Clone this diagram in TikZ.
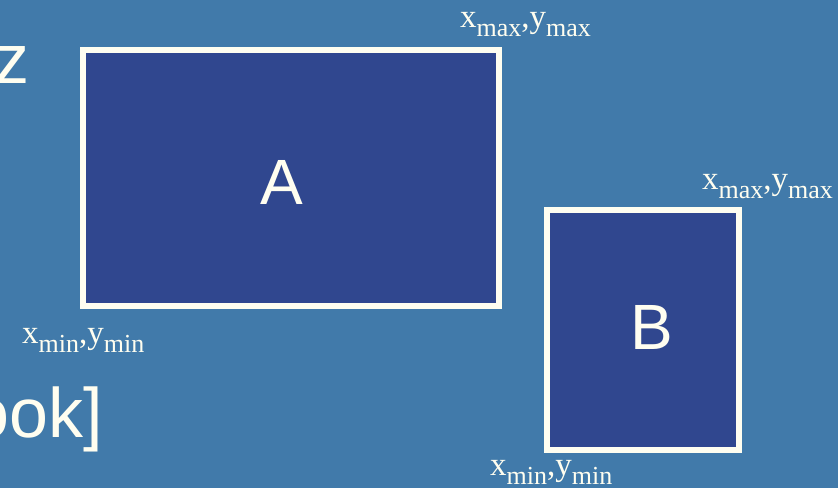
\documentclass[tikz,border=0pt]{standalone}
\usepackage{fontspec}
\setmainfont{Liberation Serif}
\newfontfamily\arialf{Liberation Sans}
\definecolor{bgblue}{HTML}{417AAA}
\definecolor{boxblue}{HTML}{30478F}
\definecolor{cream}{HTML}{FFFEF0}
\newcommand{\mainsz}{\fontsize{33}{33}\selectfont}
\newcommand{\subsz}{\fontsize{26}{26}\selectfont}
\newcommand{\coordlbl}[1]{\mainsz x\raisebox{-9pt}{\subsz #1},y\raisebox{-9pt}{\subsz #1}}
\begin{document}
\begin{tikzpicture}[x=1pt,y=-1pt,
  boxstyle/.style={draw=cream,fill=boxblue,line width=6pt},
  lbl/.style={text=cream,inner sep=0pt,anchor=base west},
  bigtxt/.style={text=cream,inner sep=0pt,font=\arialf\fontsize{64}{64}\selectfont},
  sidetxt/.style={text=cream,inner sep=0pt,anchor=base east,font=\arialf\fontsize{70}{70}\selectfont}]
\useasboundingbox[fill=bgblue] (0,0) rectangle (838,488);
\path[boxstyle] (83,50) rectangle (499,306);
\path[boxstyle] (547,210) rectangle (739,450);
\node[bigtxt,anchor=base] (A) at (281.5,204) {A};
\node[bigtxt,anchor=base] (B) at (651.5,349) {B};
\node[sidetxt] (z) at (30,83) {z};
\node[sidetxt] (book) at (103,437) {ook]};
\node[lbl] (amax) at (460,27) {\coordlbl{max}};
\node[lbl] (bmax) at (702,189) {\coordlbl{max}};
\node[lbl] (amin) at (22,343) {\coordlbl{min}};
\node[lbl] (bmin) at (490,475) {\coordlbl{min}};
\end{tikzpicture}
\end{document}
